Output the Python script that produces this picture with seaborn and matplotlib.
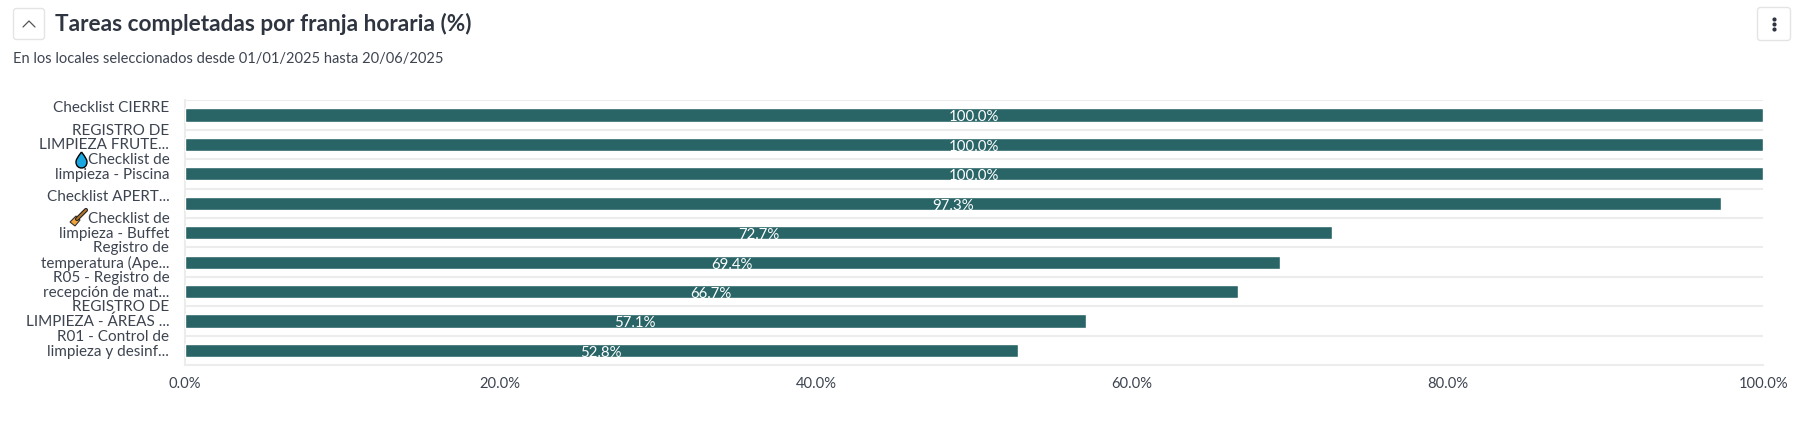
import matplotlib
matplotlib.use('Agg')
import numpy as np
import pandas as pd
import matplotlib.pyplot as plt
import seaborn as sns
from matplotlib.patches import FancyBboxPatch, PathPatch
from matplotlib.path import Path
from matplotlib.transforms import ScaledTranslation

W, H = 1806, 423

categories = [
    "Checklist CIERRE",
    "REGISTRO DE\nLIMPIEZA FRUTE...",
    "Checklist de\nlimpieza - Piscina",
    "Checklist APERT...",
    "Checklist de\nlimpieza - Buffet",
    "Registro de\ntemperatura (Ape...",
    "R05 - Registro de\nrecepción de mat...",
    "REGISTRO DE\nLIMPIEZA - ÁREAS ...",
    "R01 - Control de\nlimpieza y desinf...",
]
values = [100.0, 100.0, 100.0, 97.3, 72.7, 69.4, 66.7, 57.1, 52.8]
x_ticks = [0, 20, 40, 60, 80, 100]

BAR = '#296467'
TEXT = '#3d4450'
GRID = '#ececec'

sns.set_theme(style='white')
plt.rcParams['font.family'] = ['Lato', 'DejaVu Sans']

df = pd.DataFrame({'tarea': categories, 'pct': values})

fig = plt.figure(figsize=(W / 100, H / 100), dpi=100, facecolor='white')
ax = fig.add_axes([184.6 / W, 1 - 365.2 / H, (1763.2 - 184.6) / W, (365.2 - 100.2) / H])

sns.barplot(data=df, x='pct', y='tarea', orient='h', color=BAR, saturation=1,
            width=0.45, ax=ax, zorder=3)
ax.set_xlim(0, 100)
ax.set_ylim(len(categories) - 0.5, -0.5)
ax.set_xlabel('')
ax.set_ylabel('')

# row separators sit between the categories
ax.set_yticks(np.arange(-0.5, len(categories)), minor=True)
ax.grid(which='minor', axis='y', color=GRID, lw=1.5, zorder=0)
ax.tick_params(axis='y', which='both', length=0, pad=11)
ax.set_yticks(range(len(categories)))
ax.set_yticklabels(categories, fontsize=11, color=TEXT, linespacing=1.05, ha='right')

# category labels sit a little above their bars
up = ScaledTranslation(0, 8 / 100, fig.dpi_scale_trans)
for lab in ax.get_yticklabels():
    lab.set_transform(lab.get_transform() + up)

ax.set_xticks(x_ticks)
ax.set_xticklabels([f'{t:.1f}%' for t in x_ticks], fontsize=10.6, color=TEXT)
ax.tick_params(axis='x', length=4.5, width=1.2, color=GRID, pad=4)

for side in ['top', 'right']:
    ax.spines[side].set_visible(False)
for side in ['left', 'bottom']:
    ax.spines[side].set_color(GRID)
    ax.spines[side].set_linewidth(1.5)

for i, v in enumerate(values):
    ax.text(v / 2, i + 0.08, f'{v:.1f}%', color='white', fontsize=10.8,
            ha='center', va='center', zorder=4)

# header
fig.text(55 / W, 1 - 24 / H, 'Tareas completadas por franja horaria (%)', fontsize=16.3,
         fontweight='bold', color='#2f3540', va='center', ha='left')
fig.text(13 / W, 1 - 59 / H, 'En los locales seleccionados desde 01/01/2025 hasta 20/06/2025',
         fontsize=10.5, color=TEXT, va='center', ha='left')

# overlay axes in pixel coordinates for the buttons and icons
ui = fig.add_axes([0, 0, 1, 1], facecolor='none')
ui.set_xlim(0, W)
ui.set_ylim(H, 0)
ui.axis('off')

for x0, y0, w, h in [(13.5, 8.5, 31, 31), (1757.5, 7.5, 33, 33)]:
    ui.add_patch(FancyBboxPatch((x0 + 2, y0 + 2), w - 4, h - 4, boxstyle='round,pad=2,rounding_size=3',
                                fc='white', ec='#e4e4e4', lw=1))
ui.plot([23, 29, 35], [27, 21, 27], color='#555555', lw=0.9)
ui.scatter([1774, 1774, 1774], [19, 24, 29], s=9, color='#2f3540', linewidths=0)

# water drop in front of the Piscina label
drop = Path([(81.5, 152), (77, 158), (76, 160), (76, 162), (76, 170), (87, 170), (87, 162),
             (87, 160), (86, 158), (81.5, 152)],
            [Path.MOVETO, Path.CURVE4, Path.CURVE4, Path.CURVE4, Path.CURVE4, Path.CURVE4, Path.CURVE4,
             Path.CURVE4, Path.CURVE4, Path.CURVE4])
ui.add_patch(PathPatch(drop, fc='#1aa7e0', ec='black', lw=1))

# broom in front of the Buffet label
ui.plot([77, 86], [219, 210], color='#222222', lw=3, solid_capstyle='round')
ui.plot([77, 86], [219, 210], color='#b5762a', lw=1.4, solid_capstyle='round')
ui.fill([70, 76, 80, 75], [222, 216, 220, 226], fc='#f2a33a', ec='#333333', lw=0.8)

fig.savefig('out.png', dpi=100)
plt.close(fig)
